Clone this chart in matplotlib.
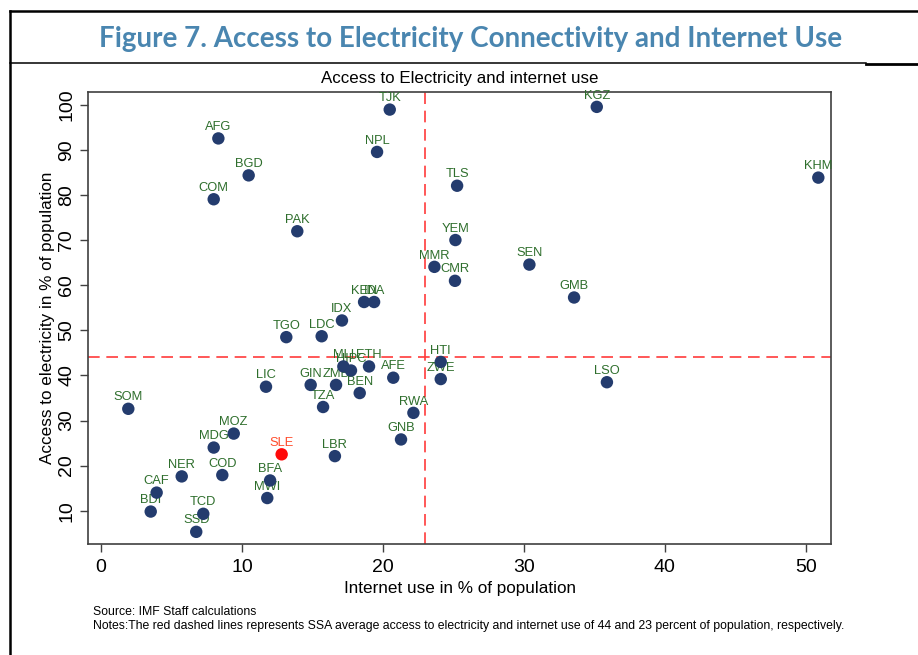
import matplotlib
matplotlib.use("Agg")
import matplotlib.pyplot as plt
from matplotlib.lines import Line2D

codes = ["TJK", "KGZ", "AFG", "NPL", "BGD", "TLS", "KHM", "COM", "PAK", "YEM",
         "SEN", "MMR", "CMR", "GMB", "KEN", "IDA", "IDX", "TGO", "LDC", "HTI",
         "MLI", "HIPC", "ETH", "AFE", "ZWE", "LSO", "LIC", "GIN", "ZMB", "BEN",
         "TZA", "SOM", "RWA", "MOZ", "GNB", "MDG", "SLE", "LBR", "NER", "COD",
         "BFA", "CAF", "MWI", "BDI", "TCD", "SSD"]
internet = [20.49, 35.18, 8.33, 19.59, 10.48, 25.27, 50.9, 8.0, 13.93, 25.15,
            30.4, 23.66, 25.12, 33.57, 18.67, 19.38, 17.1, 13.15, 15.66, 24.11,
            17.2, 17.74, 19.02, 20.74, 24.11, 35.9, 11.71, 14.88, 16.68, 18.36,
            15.76, 1.94, 22.17, 9.42, 21.29, 8.0, 12.82, 16.6, 5.73, 8.61,
            12.0, 3.95, 11.8, 3.53, 7.26, 6.76]
electricity = [99.0, 99.6, 92.6, 89.6, 84.4, 82.1, 83.9, 79.1, 72.0, 70.05,
               64.6, 64.1, 61.0, 57.3, 56.3, 56.3, 52.2, 48.5, 48.7, 43.0,
               42.0, 41.1, 42.0, 39.5, 39.2, 38.5, 37.5, 37.9, 37.9, 36.1,
               33.0, 32.6, 31.7, 27.1, 25.8, 24.0, 22.5, 22.1, 17.6, 17.9,
               16.7, 14.0, 12.8, 9.8, 9.3, 5.3]
highlight = ["SLE"]
ssa_internet = 23
ssa_electricity = 44
x_ticks = [0, 10, 20, 30, 40, 50]
y_ticks = [10, 20, 30, 40, 50, 60, 70, 80, 90, 100]

W, H = 918, 655
fig = plt.figure(figsize=(W / 100, H / 100), dpi=100)
fig.patch.set_facecolor("white")

plt.rcParams["font.family"] = ["Liberation Sans", "DejaVu Sans"]

def fx(px):
    return px / W

def fy(py):
    return 1 - py / H

ax = fig.add_axes([fx(88), fy(544), fx(831) - fx(88), fy(92) - fy(544)])
ax.set_xlim(-0.92, 51.8)
ax.set_ylim(2.6, 102.9)

navy = "#243C6E"
green = "#2E6E2C"
red_dot = "#FF0A0A"
red_lab = "#FF4B2B"

# reference lines
ax.axhline(ssa_electricity, color="#FF3B3B", lw=1.2, ls=(0, (7, 4)), zorder=1)
ax.axvline(ssa_internet, color="#FF3B3B", lw=1.2, ls=(0, (7, 4)), zorder=1)

for c, xv, yv in zip(codes, internet, electricity):
    is_h = c in highlight
    ax.scatter([xv], [yv], s=80, color=red_dot if is_h else navy,
               edgecolors="none", zorder=4, clip_on=False)
    ax.annotate(c, (xv, yv), xytext=(0, 6), textcoords="offset points",
                ha="center", va="baseline", fontsize=9.3,
                color=red_lab if is_h else green, zorder=3,
                annotation_clip=False)

for sp in ax.spines.values():
    sp.set_color("#404040")
    sp.set_linewidth(1.2)

ax.set_xticks(x_ticks)
ax.set_yticks(y_ticks)
ax.tick_params(axis="both", direction="out", length=6, width=1.0,
               color="#404040", labelsize=14, labelcolor="black")
ax.tick_params(axis="x", pad=5)
ax.tick_params(axis="y", pad=3)
for lab in ax.get_yticklabels():
    lab.set_rotation(90)
    lab.set_va("center")

fig.text(fx(460), fy(79), "Access to Electricity and internet use",
         ha="center", va="center", fontsize=12.2, color="black")
fig.text(fx(460), fy(589), "Internet use in % of population",
         ha="center", va="center", fontsize=12.3, color="black")
fig.text(fx(48), fy(318), "Access to electricity in % of population",
         ha="center", va="center", rotation=90, fontsize=12.3, color="black")

fig.text(fx(93), fy(612), "Source: IMF Staff calculations",
         ha="left", va="center", fontsize=8.8, color="black")
fig.text(fx(93), fy(626),
         "Notes:The red dashed lines represents SSA average access to electricity "
         "and internet use of 44 and 23 percent of population, respectively.",
         ha="left", va="center", fontsize=8.8, color="black")

fig.text(fx(471), fy(39),
         "Figure 7. Access to Electricity Connectivity and Internet Use",
         ha="center", va="center", fontsize=20, fontweight="bold",
         color="#4A86B0", family=["Lato", "DejaVu Sans"])

# page frame lines
fig.add_artist(Line2D([fx(10), 1], [fy(11), fy(11)], color="black", lw=1.8))
fig.add_artist(Line2D([fx(10), fx(10)], [0, fy(11)], color="black", lw=1.8))
fig.add_artist(Line2D([fx(10), fx(866)], [fy(63), fy(63)], color="black", lw=1.1))
fig.add_artist(Line2D([fx(866), 1], [fy(63.5), fy(63.5)], color="black", lw=2.0))

fig.savefig("out.png", dpi=100, facecolor="white")
